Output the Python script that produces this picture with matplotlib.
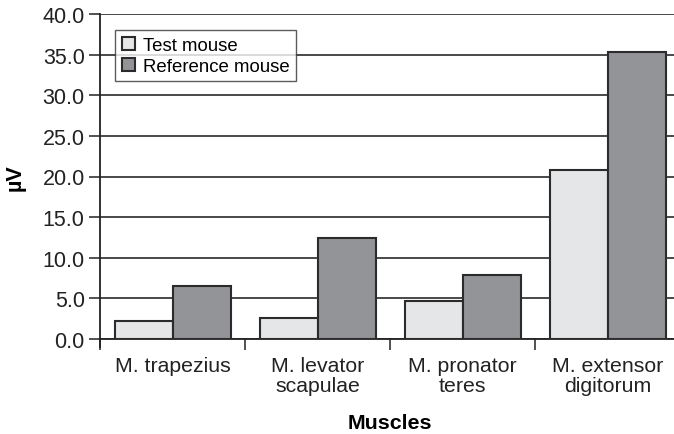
import numpy as np
import matplotlib
matplotlib.use('Agg')
from matplotlib import pyplot as plt

plt.rcParams['font.family'] = ['Liberation Sans', 'DejaVu Sans']

muscles = ['M. trapezius', 'M. levator\nscapulae', 'M. pronator\nteres',
           'M. extensor\ndigitorum']
test_mouse = [2.25, 2.55, 4.7, 20.85]
reference_mouse = [6.55, 12.45, 7.9, 35.35]

fig = plt.figure(figsize=(6.74, 4.35), dpi=100)
# axes right edge slightly beyond the figure, as in the cropped original
ax = fig.add_axes([100 / 674, 1 - 340 / 435, 580 / 674, 325 / 435])

x = np.arange(len(muscles))
w = 0.4
ax.bar(x - w / 2, test_mouse, w, color='#e5e6e8', edgecolor='#2b2b2b',
       linewidth=1.5, label='Test mouse', zorder=3)
ax.bar(x + w / 2, reference_mouse, w, color='#939497', edgecolor='#2b2b2b',
       linewidth=1.5, label='Reference mouse', zorder=3)

ax.set_xlim(-0.5, len(muscles) - 0.5)
ax.set_ylim(0, 40)
ax.set_yticks(np.arange(0, 40.1, 5))
ax.set_yticklabels(['%.1f' % v for v in np.arange(0, 40.1, 5)])
ax.yaxis.grid(True, color='#3a3a3a', linewidth=1.3, zorder=0)
ax.set_axisbelow(True)

# category separators as ticks, labels at centres
ax.set_xticks(np.arange(-0.5, len(muscles)), minor=False)
ax.set_xticklabels([])
ax.set_xticks(x, minor=True)
ax.set_xticklabels(muscles, minor=True, linespacing=1.1)
ax.tick_params(axis='x', which='major', length=8, width=1.2, color='#333333')
ax.tick_params(axis='x', which='minor', length=0, pad=12, labelsize=15.3,
               labelcolor='#222222')
ax.tick_params(axis='y', length=8, width=1.2, color='#333333', labelsize=15.5,
               labelcolor='#222222', pad=3)

for s in ['top', 'right']:
    ax.spines[s].set_visible(False)
ax.spines['left'].set_color('#222222')
ax.spines['left'].set_linewidth(1.3)
ax.spines['left'].set_bounds(-1, 40)
ax.spines['bottom'].set_color('#222222')
ax.spines['bottom'].set_linewidth(1.3)

ax.set_ylabel('µV', fontsize=15.5, fontweight='bold', labelpad=12)
ax.set_xlabel('Muscles', fontsize=15.4, fontweight='bold', labelpad=13)

leg = ax.legend(loc='upper left', bbox_to_anchor=(15 / 580, 1 - 16 / 325),
                fontsize=13.4, frameon=True, fancybox=False, borderpad=0.35,
                handlelength=0.75, handleheight=0.75, handletextpad=0.4,
                labelspacing=0.2, borderaxespad=0)
leg.get_frame().set_edgecolor('#333333')
leg.get_frame().set_linewidth(1.0)

fig.savefig('out.png', dpi=100)
